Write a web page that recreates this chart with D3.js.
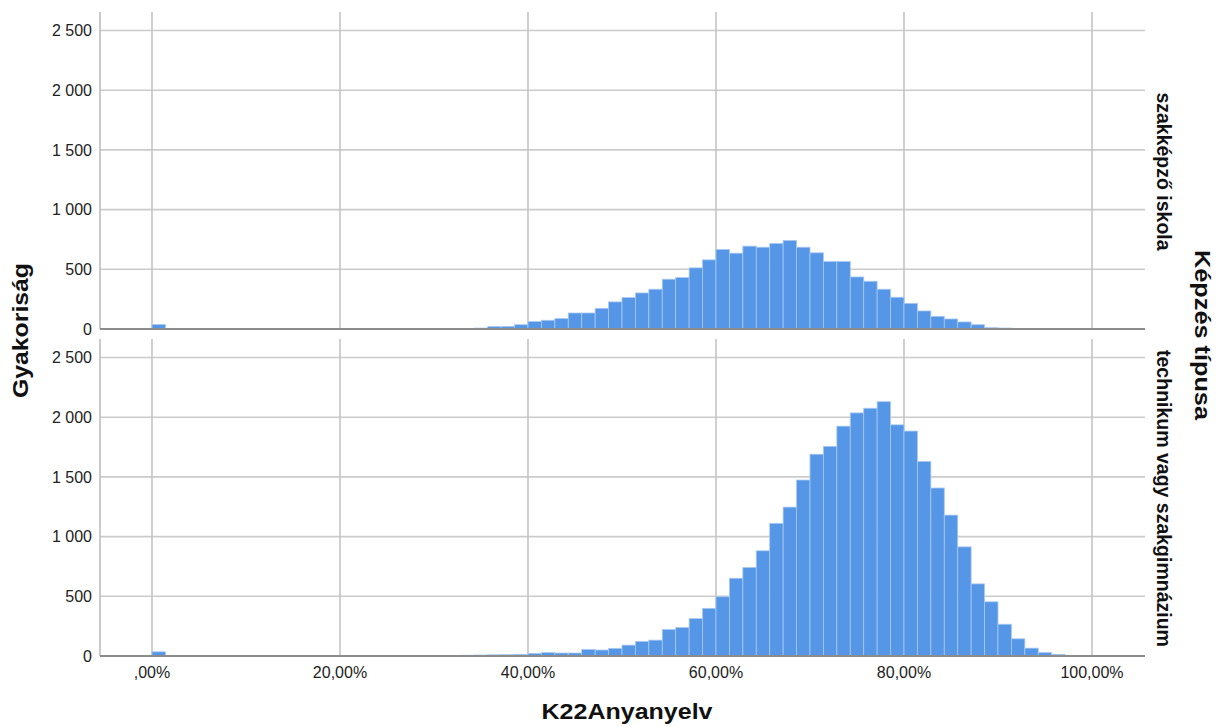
<!DOCTYPE html>
<html><head><meta charset="utf-8">
<script src="https://cdn.jsdelivr.net/npm/d3@7"></script>
<style>body{margin:0;background:#fff}text{font-family:"Liberation Sans",Arial,sans-serif}</style>
</head><body>
<svg id="c" width="1216" height="727"></svg>
<script>
// Histogram of K22Anyanyelv (bin width = 1/70 of 100%), counts per bin
const nBins = 70;
const panels = ["szakképző iskola", "technikum vagy szakgimnázium"];
const countsSzakkepzo = [38,3,2,2,2,2,2,2,2,2,2,3,3,3,2,2,2,2,3,3,3,4,4,5,8,20,22,36,62,73,87,134,134,173,227,263,302,333,417,431,512,579,666,635,694,685,716,741,685,638,565,565,436,400,333,266,215,151,106,84,59,36,11,8,5,3,2,1,0,0];
const countsTechnikum = [35,1,1,1,1,1,1,1,1,1,2,2,2,2,2,2,2,2,2,3,3,4,5,6,8,10,11,14,22,28,25,25,55,50,64,91,122,133,222,238,313,399,496,651,742,881,1111,1247,1474,1690,1756,1925,2036,2075,2130,1936,1884,1629,1407,1180,914,604,454,266,144,66,28,14,5,2];
const xTicks = [0,20,40,60,80,100];
const xTickLabels = [",00%","20,00%","40,00%","60,00%","80,00%","100,00%"];
const yTicks = [0,500,1000,1500,2000,2500];
const yTickLabels = ["0","500","1 000","1 500","2 000","2 500"];
const xTitle = "K22Anyanyelv", yTitle = "Gyakoriság", panelTitle = "Képzés típusa";

const svg = d3.select("#c");
const x = d3.scaleLinear().domain([-5.532, 105.64]).range([100, 1145]);
const panelBox = [[12, 329], [339, 656]];
const data = [countsSzakkepzo, countsTechnikum];
const binW = 100 / nBins;

panelBox.forEach(([top, bot], pi) => {
  const y = d3.scaleLinear().domain([0, 2655]).range([bot, top]);
  const g = svg.append("g");
  g.selectAll(".hg").data(yTicks.slice(1)).enter().append("line")
    .attr("x1", 100).attr("x2", 1145).attr("y1", d => y(d)).attr("y2", d => y(d))
    .attr("stroke", "#cbcbcb").attr("stroke-width", 1.6);
  g.selectAll(".vg").data(xTicks).enter().append("line")
    .attr("x1", d => x(d)).attr("x2", d => x(d)).attr("y1", top).attr("y2", bot)
    .attr("stroke", "#c4c4c4").attr("stroke-width", 1.6);
  g.append("line").attr("x1", 100).attr("x2", 100).attr("y1", top).attr("y2", bot)
    .attr("stroke", "#bdbdbd").attr("stroke-width", 1.6);
  g.selectAll("rect").data(data[pi].map((v, i) => ({v, i}))).enter().append("rect")
    .attr("x", d => x(d.i * binW))
    .attr("width", x(binW) - x(0))
    .attr("y", d => y(d.v))
    .attr("height", d => y(0) - y(d.v))
    .attr("fill", "#5596e6").attr("stroke", "#a9c9f1").attr("stroke-width", 0.8);
  g.append("line").attr("x1", 100).attr("x2", 1145).attr("y1", bot).attr("y2", bot)
    .attr("stroke", "#8c8c8c").attr("stroke-width", 2);
  g.selectAll(".yl").data(yTicks).enter().append("text")
    .attr("x", 92).attr("y", d => y(d)).attr("dy", "0.35em").attr("text-anchor", "end")
    .attr("font-size", 16).attr("fill", "#222").text((d, i) => yTickLabels[i]);
  const cy = (top + bot) / 2;
  g.append("text").attr("transform", `translate(1157,${cy + 1}) rotate(90)`)
    .attr("text-anchor", "middle").attr("font-size", 19.5).attr("font-weight", "bold")
    .attr("fill", "#111").text(panels[pi]);
});

svg.selectAll(".xl").data(xTicks).enter().append("text")
  .attr("x", d => x(d)).attr("y", 678).attr("text-anchor", "middle")
  .attr("font-size", 16).attr("fill", "#222").text((d, i) => xTickLabels[i]);

svg.append("text").attr("x", 627).attr("y", 719).attr("text-anchor", "middle")
  .attr("font-size", 22).attr("font-weight", "bold").attr("textLength", 171)
  .attr("lengthAdjust", "spacingAndGlyphs")
  .attr("fill", "#111").text(xTitle);
svg.append("text").attr("transform", "translate(28,330.5) rotate(-90)")
  .attr("text-anchor", "middle").attr("font-size", 22).attr("font-weight", "bold")
  .attr("textLength", 135).attr("lengthAdjust", "spacingAndGlyphs")
  .attr("fill", "#111").text(yTitle);
svg.append("text").attr("transform", "translate(1195,335) rotate(90)")
  .attr("text-anchor", "middle").attr("font-size", 22).attr("font-weight", "bold")
  .attr("textLength", 170).attr("lengthAdjust", "spacingAndGlyphs")
  .attr("fill", "#111").text(panelTitle);
</script>
</body></html>
